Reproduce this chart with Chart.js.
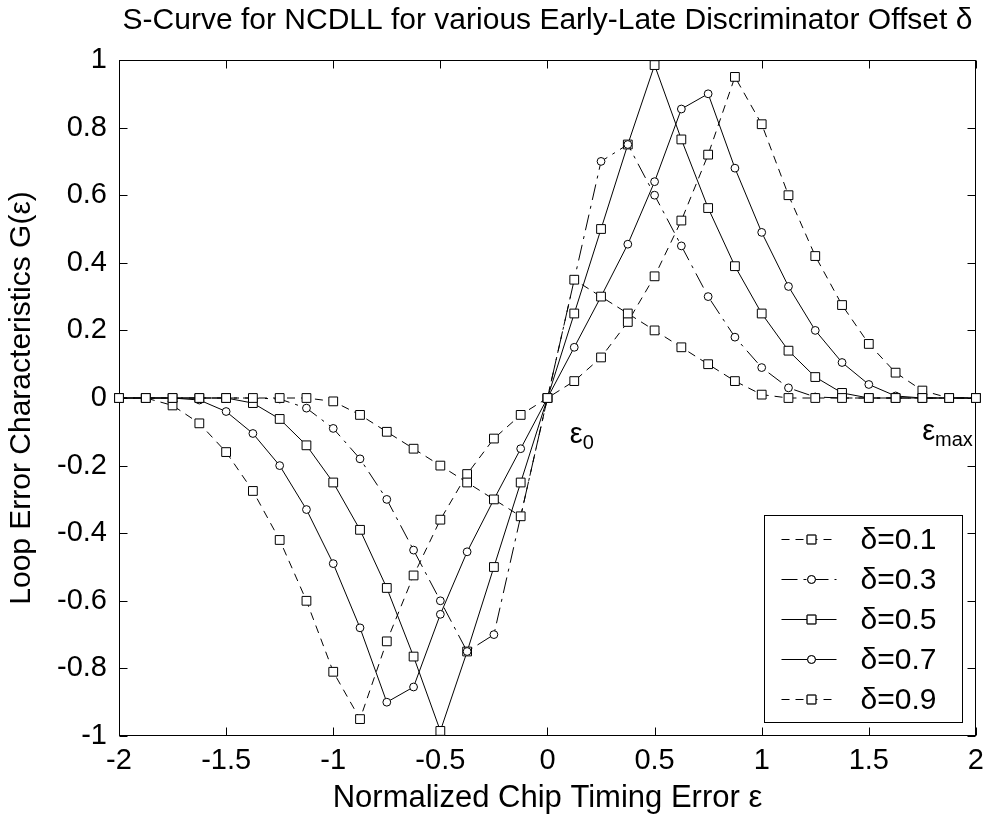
<!DOCTYPE html>
<html><head><meta charset="utf-8">
<script src="https://cdn.jsdelivr.net/npm/chart.js@4.4.1/dist/chart.umd.min.js"></script>
<style>html,body{margin:0;padding:0;background:#fff;}#wrap{width:992px;height:818px;}</style>
</head><body><div id="wrap"><canvas id="c" width="992" height="818"></canvas></div>
<script>
// ---- data ----
const xValues = [-2,-1.875,-1.75,-1.625,-1.5,-1.375,-1.25,-1.125,-1,-0.875,-0.75,-0.625,-0.5,-0.375,-0.25,-0.125,0,0.125,0.25,0.375,0.5,0.625,0.75,0.875,1,1.125,1.25,1.375,1.5,1.625,1.75,1.875,2];
const seriesLabels = ['δ=0.1','δ=0.3','δ=0.5','δ=0.7','δ=0.9'];
const gDelta01 = [0,0,0,0,0,0,0,0,-0.01,-0.05,-0.1,-0.15,-0.2,-0.25,-0.3,-0.35,0,0.35,0.3,0.25,0.2,0.15,0.1,0.05,0.01,0,0,0,0,0,0,0,0];
const gDelta03 = [0,0,0,0,0,0,-0.003,-0.03,-0.09,-0.18,-0.3,-0.45,-0.6,-0.75,-0.7,-0.35,0,0.35,0.7,0.75,0.6,0.45,0.3,0.18,0.09,0.03,0.003,0,0,0,0,0,0];
const gDelta05 = [0,0,0,0,0,-0.015,-0.062,-0.14,-0.25,-0.39,-0.562,-0.765,-0.985,-0.75,-0.5,-0.25,0,0.25,0.5,0.75,0.985,0.765,0.562,0.39,0.25,0.14,0.062,0.015,0,0,0,0,0];
const gDelta07 = [0,0,0,-0.006,-0.04,-0.105,-0.2,-0.33,-0.49,-0.68,-0.9,-0.855,-0.64,-0.455,-0.3,-0.15,0,0.15,0.3,0.455,0.64,0.855,0.9,0.68,0.49,0.33,0.2,0.105,0.04,0.006,0,0,0];
const gDelta09 = [0,0,-0.022,-0.075,-0.16,-0.275,-0.42,-0.6,-0.81,-0.95,-0.72,-0.525,-0.36,-0.225,-0.12,-0.05,0,0.05,0.12,0.225,0.36,0.525,0.72,0.95,0.81,0.6,0.42,0.275,0.16,0.075,0.022,0,0];
const xTicks = [-2,-1.5,-1,-0.5,0,0.5,1,1.5,2];
const yTicks = [-1,-0.8,-0.6,-0.4,-0.2,0,0.2,0.4,0.6,0.8,1];
const titleText = 'S-Curve for NCDLL for various Early-Late Discriminator Offset δ';
const xTitle = 'Normalized Chip Timing Error ε';
const yTitle = 'Loop Error Characteristics G(ε)';
const annotations = [{x:0.104, y:-0.133, main:'ε', sub:'0'}, {x:1.749, y:-0.124, main:'ε', sub:'max'}];

// ---- styles ----
const FONT = '"Liberation Sans", Arial, Helvetica, sans-serif';
const seriesValues = [gDelta01, gDelta03, gDelta05, gDelta07, gDelta09];
const seriesStyles = [
  {dash:[8,6], point:'rect', r:6.2},
  {dash:[16,6,3,6], point:'circle', r:3.9},
  {dash:[], point:'rect', r:6.2},
  {dash:[], point:'circle', r:3.9},
  {dash:[8,6], point:'rect', r:6.2}
];

const datasets = seriesValues.map((vals, i) => ({
  label: seriesLabels[i],
  data: xValues.map((x, j) => ({x: x, y: vals[j]})),
  borderColor: '#000',
  borderWidth: 1,
  borderDash: seriesStyles[i].dash,
  pointStyle: seriesStyles[i].point,
  pointRadius: seriesStyles[i].r,
  pointBorderWidth: 1,
  pointBorderColor: '#000',
  pointBackgroundColor: '#fff',
  fill: false,
  tension: 0,
  clip: false
}));

const frame = {
  id: 'frame',
  beforeDatasetsDraw(chart) {
    const {ctx, chartArea: a, scales: {x, y}} = chart;
    ctx.save();
    ctx.strokeStyle = '#000';
    ctx.lineWidth = 1;
    const L = Math.round(a.left) + 0.5, R = Math.round(a.right) - 0.5, T = Math.round(a.top) + 0.5, B = Math.round(a.bottom) - 0.5;
    ctx.strokeRect(L, T, R - L, B - T);
    ctx.beginPath();
    xTicks.forEach(v => {
      const px = Math.round(x.getPixelForValue(v)) + 0.5;
      ctx.moveTo(px, B); ctx.lineTo(px, B - 8);
      ctx.moveTo(px, T); ctx.lineTo(px, T + 8);
    });
    yTicks.forEach(v => {
      const py = Math.round(y.getPixelForValue(v)) + 0.5;
      ctx.moveTo(L, py); ctx.lineTo(L + 8, py);
      ctx.moveTo(R, py); ctx.lineTo(R - 8, py);
    });
    ctx.stroke();
    ctx.restore();
  },
  afterDatasetsDraw(chart) {
    const {ctx, chartArea: a, scales: {x, y}} = chart;
    ctx.save();
    // annotations
    ctx.fillStyle = '#000';
    ctx.textBaseline = 'alphabetic';
    annotations.forEach(an => {
      const px = x.getPixelForValue(an.x), py = y.getPixelForValue(an.y);
      ctx.font = '29px ' + FONT;
      ctx.textAlign = 'left';
      ctx.fillText(an.main, px, py);
      const w = ctx.measureText(an.main).width;
      ctx.font = '20px ' + FONT;
      ctx.fillText(an.sub, px + w, py + 6);
    });
    // legend
    const lw = 198, lh = 207;
    const lx = Math.round(a.right - 14 - lw) + 0.5, ly = Math.round(a.bottom - 14 - lh) + 0.5;
    ctx.fillStyle = '#fff';
    ctx.fillRect(lx, ly, lw, lh);
    ctx.strokeStyle = '#000';
    ctx.lineWidth = 1;
    ctx.strokeRect(lx, ly, lw, lh);
    chart.data.datasets.forEach((ds, i) => {
      const ry = Math.round(ly + 23 + i * 40.2) + 0.5;
      ctx.save();
      ctx.setLineDash(ds.borderDash);
      ctx.beginPath();
      ctx.moveTo(lx + 17, ry); ctx.lineTo(lx + 72, ry);
      ctx.stroke();
      ctx.restore();
      Chart.helpers.drawPoint(ctx, {pointStyle: ds.pointStyle, radius: ds.pointRadius, rotation: 0, borderWidth: 1}, lx + 47, ry);
      ctx.fillStyle = '#fff';
      ctx.fill();
      ctx.stroke();
      ctx.fillStyle = '#000';
      ctx.font = '30px ' + FONT;
      ctx.textAlign = 'left';
      ctx.textBaseline = 'middle';
      ctx.fillText(ds.label, lx + 96, ry + 1);
    });
    ctx.restore();
  }
};

Chart.defaults.font.family = FONT;
Chart.defaults.color = '#000';

new Chart(document.getElementById('c'), {
  type: 'line',
  data: {datasets},
  options: {
    responsive: false,
    animation: false,
    devicePixelRatio: 1,
    layout: {padding: {left: 0, right: 14, top: 0, bottom: 0}},
    plugins: {
      legend: {display: false},
      tooltip: {enabled: false},
      title: {display: true, fullSize: false, text: titleText, font: {size: 30, weight: 'normal'}, color: '#000', padding: {top: 3, bottom: 21}}
    },
    scales: {
      x: {
        type: 'linear', min: -2, max: 2,
        afterBuildTicks: s => { s.ticks = xTicks.map(v => ({value: v})); },
        afterFit: s => { s.height = 82; },
        grid: {display: false, drawTicks: false},
        border: {display: false},
        ticks: {font: {size: 29}, color: '#000', padding: 8, callback: v => String(parseFloat(Number(v).toFixed(3)))},
        title: {display: true, text: xTitle, font: {size: 31}, color: '#000', padding: {top: 0, bottom: 1}}
      },
      y: {
        type: 'linear', min: -1, max: 1,
        afterBuildTicks: s => { s.ticks = yTicks.map(v => ({value: v})); },
        afterFit: s => { s.width = 119; },
        grid: {display: false, drawTicks: false},
        border: {display: false},
        ticks: {font: {size: 29}, color: '#000', padding: 12, callback: v => String(parseFloat(Number(v).toFixed(3)))},
        title: {display: true, text: yTitle, font: {size: 30}, color: '#000', padding: {top: 4, bottom: 0}}
      }
    }
  },
  plugins: [frame]
});
</script></body></html>
